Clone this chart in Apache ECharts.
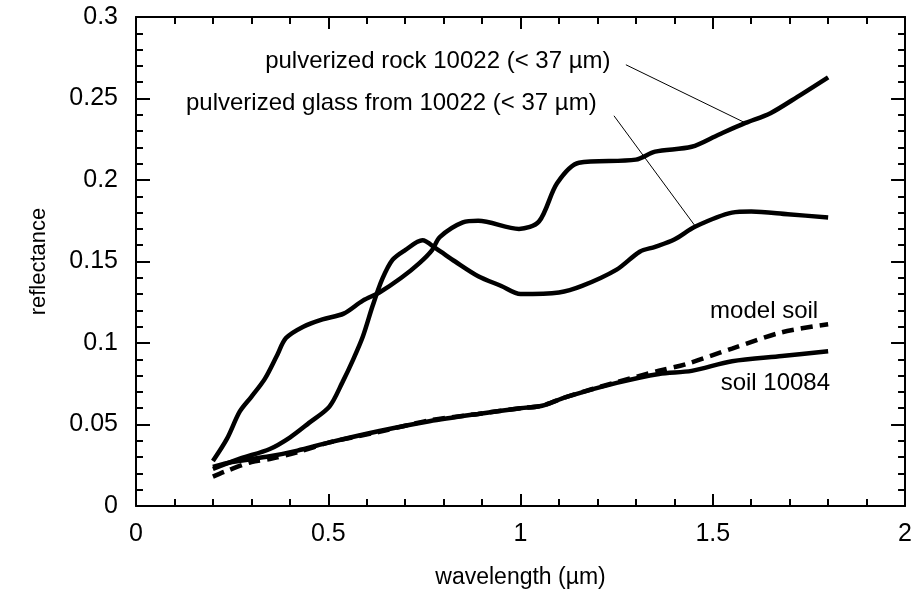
<!DOCTYPE html>
<html>
<head>
<meta charset="utf-8">
<script src="https://cdn.jsdelivr.net/npm/echarts@6/dist/echarts.min.js"></script>
<style>
html,body{margin:0;padding:0;background:#fff;}
#chart{width:915px;height:594px;}
</style>
</head>
<body>
<div id="chart"></div>
<script>
// Data (wavelength in µm, reflectance)
var rockX = [0.2,0.236,0.27,0.30,0.335,0.366,0.39,0.435,0.485,0.54,0.59,0.633,0.69,0.737,0.77,0.79,0.85,0.89,0.996,1.048,1.095,1.152,1.30,1.35,1.445,1.515,1.585,1.65,1.72,1.80];
var rockY = [0.0276,0.041,0.058,0.067,0.078,0.092,0.103,0.110,0.1145,0.118,0.126,0.131,0.140,0.149,0.157,0.165,0.174,0.175,0.170,0.1745,0.198,0.2106,0.2125,0.2174,0.2204,0.2278,0.235,0.241,0.251,0.263];

var glassX = [0.2,0.27,0.348,0.40,0.45,0.503,0.537,0.565,0.59,0.615,0.64,0.667,0.70,0.745,0.78,0.83,0.89,0.95,1.0,1.10,1.16,1.25,1.31,1.35,1.40,1.455,1.55,1.60,1.695,1.80];
var glassY = [0.0227,0.029,0.035,0.042,0.051,0.061,0.076,0.090,0.104,0.1225,0.139,0.151,0.157,0.163,0.158,0.150,0.141,0.135,0.130,0.131,0.135,0.145,0.156,0.159,0.1635,0.1715,0.180,0.1807,0.179,0.177];

var soilX = [0.2,0.25,0.348,0.42,0.503,0.633,0.763,0.89,1.0,1.056,1.12,1.25,1.36,1.445,1.55,1.68,1.80];
var soilY = [0.024,0.027,0.0305,0.034,0.039,0.046,0.052,0.0565,0.060,0.0615,0.067,0.0755,0.081,0.0829,0.0888,0.092,0.095];

var modelX = [0.2,0.23,0.30,0.348,0.42,0.503,0.633,0.763,0.89,1.0,1.056,1.12,1.25,1.36,1.43,1.55,1.68,1.80];
var modelY = [0.018,0.021,0.027,0.0288,0.033,0.039,0.0455,0.0525,0.0565,0.060,0.0615,0.067,0.076,0.083,0.087,0.0966,0.1066,0.1115];

// Annotation labels (right edge of text at x, vertically centred on y)
var labelTexts = ['pulverized rock 10022 (< 37 \u00b5m)', 'pulverized glass from 10022 (< 37 \u00b5m)', 'model soil', 'soil 10084'];
var labelX = [1.234, 1.198, 1.774, 1.805];
var labelY = [0.2725, 0.2468, 0.1194, 0.0753];

// Leader lines from labels to curves
var rockLeader = [[1.274, 0.2707], [1.585, 0.235]];
var glassLeader = [[1.243, 0.2394], [1.455, 0.1715]];

var xTicks = { min: 0, max: 2, interval: 0.5 };
var yTicks = { min: 0, max: 0.3, interval: 0.05 };

function zip(xs, ys) { return xs.map(function (x, i) { return [x, ys[i]]; }); }

var FONT = 'Liberation Sans';
var chart = echarts.init(document.getElementById('chart'));

function mkX(pos, showLabel) {
  return {
    type: 'value', position: pos, min: xTicks.min, max: xTicks.max, interval: xTicks.interval,
    name: showLabel ? 'wavelength (\u00b5m)' : '', nameLocation: 'middle', nameGap: 60,
    nameTextStyle: { fontFamily: FONT, fontSize: 23, color: '#000' },
    axisLine: { show: true, onZero: false, lineStyle: { color: '#000', width: 2 } },
    axisTick: { show: true, inside: true, length: 12, lineStyle: { color: '#000', width: 2 } },
    minorTick: { show: true, splitNumber: 5, length: 7, lineStyle: { color: '#000', width: 2 } },
    axisLabel: { show: showLabel, margin: 16, fontFamily: FONT, fontSize: 25, color: '#000' },
    splitLine: { show: false }, minorSplitLine: { show: false }
  };
}
function mkY(pos, showLabel) {
  return {
    type: 'value', position: pos, min: yTicks.min, max: yTicks.max, interval: yTicks.interval,
    name: showLabel ? 'reflectance' : '', nameLocation: 'middle', nameGap: 86,
    nameTextStyle: { fontFamily: FONT, fontSize: 22, color: '#000' },
    axisLine: { show: true, onZero: false, lineStyle: { color: '#000', width: 2 } },
    axisTick: { show: true, inside: true, length: 14, lineStyle: { color: '#000', width: 2 } },
    minorTick: { show: true, splitNumber: 5, length: 7, lineStyle: { color: '#000', width: 2 } },
    axisLabel: { show: showLabel, margin: 18, fontFamily: FONT, fontSize: 25, color: '#000' },
    splitLine: { show: false }, minorSplitLine: { show: false }
  };
}

var curveStyle = { color: '#000', width: 4.5 };

chart.setOption({
  backgroundColor: '#fff',
  animation: false,
  grid: { left: 136, right: 8, top: 17, bottom: 87, containLabel: false },
  xAxis: [mkX('bottom', true), mkX('top', false)],
  yAxis: [mkY('left', true), mkY('right', false)],
  series: [
    { type: 'line', data: zip(rockX, rockY), showSymbol: false, smooth: 0.3, lineStyle: curveStyle, itemStyle: { color: '#000' } },
    { type: 'line', data: zip(glassX, glassY), showSymbol: false, smooth: 0.3, lineStyle: curveStyle, itemStyle: { color: '#000' } },
    { type: 'line', data: zip(soilX, soilY), showSymbol: false, smooth: 0.3, lineStyle: curveStyle, itemStyle: { color: '#000' } },
    { type: 'line', data: zip(modelX, modelY), showSymbol: false, smooth: 0.3, lineStyle: { color: '#000', width: 4.5, type: [12, 7] }, itemStyle: { color: '#000' } },
    { type: 'line', data: rockLeader, showSymbol: false, lineStyle: { color: '#000', width: 1 } },
    { type: 'line', data: glassLeader, showSymbol: false, lineStyle: { color: '#000', width: 1 } },
    {
      type: 'scatter', symbolSize: 0,
      itemStyle: { color: '#000', opacity: 1 },
      data: labelX.map(function (x, i) { return { value: [x, labelY[i]], name: labelTexts[i] }; }),
      label: {
        show: true, position: 'left', distance: 0, formatter: '{b}',
        fontFamily: FONT, fontSize: 24, color: '#000', opacity: 1
      }
    }
  ]
});
</script>
</body>
</html>
